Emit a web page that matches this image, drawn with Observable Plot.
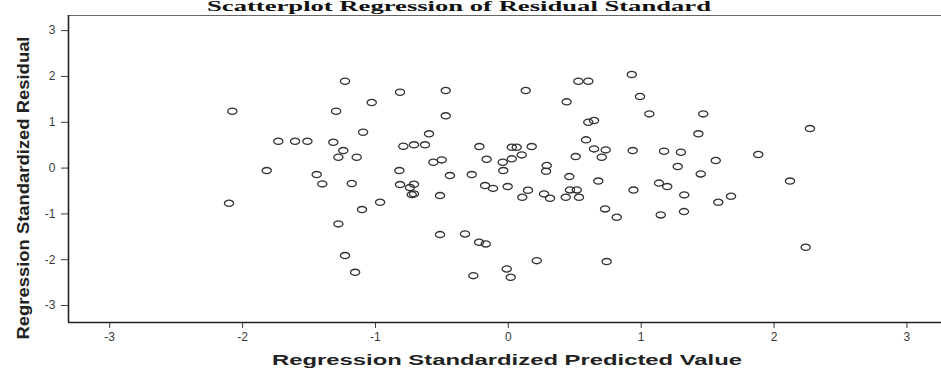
<!DOCTYPE html>
<html>
<head>
<meta charset="utf-8">
<script src="https://cdn.jsdelivr.net/npm/d3@7"></script>
<script src="https://cdn.jsdelivr.net/npm/@observablehq/plot@0.6"></script>
<style>
  html, body { margin: 0; padding: 0; background: #fff; }
  #chart { width: 941px; height: 369px; overflow: hidden; }
</style>
</head>
<body>
<div id="chart"></div>
<script>
// Regression standardized predicted value (x) and standardized residual (y)
const predicted = [
  -1.229, -2.077, -1.296, -1.731, -1.605, -1.512, -1.317, -1.242, -1.279, -1.141,
  -1.818, -1.442, -1.400, -1.178, -1.093, -2.102, -1.101, -1.279, -1.229, -1.153,
  -0.815, -0.471, 0.131, 0.527, 0.602, 0.929, 0.991, -1.028, 0.439, -0.471,
  0.602, 0.645, -0.597, 0.585, -0.790, -0.710, -0.627, -0.218, 0.026, 0.063,
  0.176, 0.645, 0.733, 0.936, -0.163, -0.042, 0.026, 0.101, 0.507, 0.703,
  -0.564, -0.501, -0.820, 0.289, 0.284, -0.439, -0.275, -0.038, 0.459, 0.677,
  -0.815, -0.710, -0.740, -0.175, -0.115, -0.005, 0.148, 0.464, 0.515, 0.942,
  -0.727, -0.710, -0.514, 0.105, 0.269, 0.314, 0.432, 0.532, -0.965, 0.728,
  0.816, -0.514, -0.326, -0.220, -0.170, 0.214, 0.740, -0.012, -0.263, 0.018,
  1.061, 1.467, 1.430, 2.270, 1.172, 1.299, 1.561, 1.881, 1.275, 1.448,
  1.134, 1.196, 2.120, 1.324, 1.580, 1.676, 1.147, 1.322, 2.238
];
const residual = [
  1.895, 1.240, 1.240, 0.585, 0.585, 0.585, 0.563, 0.382, 0.236, 0.236,
  -0.055, -0.142, -0.345, -0.338, 0.782, -0.769, -0.906, -1.218, -1.910, -2.275,
  1.655, 1.692, 1.692, 1.895, 1.895, 2.041, 1.561, 1.430, 1.445, 1.140,
  1.000, 1.037, 0.747, 0.616, 0.476, 0.507, 0.507, 0.469, 0.454, 0.454,
  0.469, 0.419, 0.397, 0.382, 0.192, 0.127, 0.201, 0.288, 0.251, 0.236,
  0.127, 0.179, -0.055, 0.055, -0.070, -0.164, -0.142, -0.055, -0.186, -0.284,
  -0.360, -0.354, -0.426, -0.382, -0.443, -0.404, -0.485, -0.476, -0.476, -0.480,
  -0.579, -0.563, -0.600, -0.638, -0.563, -0.659, -0.638, -0.638, -0.747, -0.891,
  -1.074, -1.452, -1.437, -1.620, -1.655, -2.020, -2.041, -2.201, -2.347, -2.384,
  1.183, 1.183, 0.747, 0.862, 0.367, 0.345, 0.164, 0.295, 0.033, -0.127,
  -0.328, -0.404, -0.284, -0.585, -0.747, -0.616, -1.022, -0.950, -1.729
];
const xTicks = [-3, -2, -1, 0, 1, 2, 3];
const yTicks = [-3, -2, -1, 0, 1, 2, 3];
const xDomain = [-3.31, 3.26];
const yDomain = [-3.37, 3.33];

const titleText = "Scatterplot Regression of Residual Standard";
const xLabel = "Regression Standardized Predicted Value";
const yLabel = "Regression Standardized Residual";

// open ellipse symbol (the scanned chart is stretched horizontally)
const RX = 4.6, RY = 3.1, K = 0.5523;
const ellipse = {
  draw(ctx) {
    ctx.moveTo(RX, 0);
    ctx.bezierCurveTo(RX, RY * K, RX * K, RY, 0, RY);
    ctx.bezierCurveTo(-RX * K, RY, -RX, RY * K, -RX, 0);
    ctx.bezierCurveTo(-RX, -RY * K, -RX * K, -RY, 0, -RY);
    ctx.bezierCurveTo(RX * K, -RY, RX, -RY * K, RX, 0);
    ctx.closePath();
  }
};

const points = predicted.map((p, i) => ({p, r: residual[i]}));
const fmt = d => String(d);

const svg = Plot.plot({
  width: 941,
  height: 369,
  marginLeft: 68,
  marginRight: 0,
  marginTop: 15,
  marginBottom: 47,
  style: {fontFamily: "'Liberation Sans', Arial, sans-serif", background: "#fff"},
  x: {domain: xDomain},
  y: {domain: yDomain},
  marks: [
    Plot.ruleY([yDomain[1]], {stroke: "#666", strokeWidth: 1}),
    Plot.axisX(xTicks, {tickSize: 6, tickPadding: 4, fontSize: 12, color: "#3a3a3a", tickFormat: fmt, label: null}),
    Plot.axisY(yTicks, {tickSize: 7, tickPadding: 6, fontSize: 12, color: "#3a3a3a", tickFormat: fmt, label: null}),
    Plot.ruleX([xDomain[0]], {stroke: "#222", strokeWidth: 1.6}),
    Plot.ruleY([yDomain[0]], {stroke: "#222", strokeWidth: 1.6}),
    Plot.dot(points, {x: "p", y: "r", symbol: ellipse, stroke: "#333", strokeWidth: 1.3, fill: "none"})
  ]
});

const s = d3.select(svg);
s.append("text")
  .attr("x", 459).attr("y", 11)
  .attr("text-anchor", "middle")
  .attr("font-family", "'Liberation Serif', 'Times New Roman', serif")
  .attr("font-weight", "bold")
  .attr("font-size", 14)
  .attr("textLength", 504)
  .attr("lengthAdjust", "spacingAndGlyphs")
  .attr("fill", "#111")
  .text(titleText);
s.append("text")
  .attr("x", 507).attr("y", 365)
  .attr("text-anchor", "middle")
  .attr("font-family", "'Liberation Sans', Arial, sans-serif")
  .attr("font-weight", "bold")
  .attr("font-size", 14.5)
  .attr("textLength", 470)
  .attr("lengthAdjust", "spacingAndGlyphs")
  .attr("fill", "#222")
  .text(xLabel);
s.append("text")
  .attr("transform", "translate(29,188) rotate(-90)")
  .attr("text-anchor", "middle")
  .attr("font-family", "'Liberation Sans', Arial, sans-serif")
  .attr("font-weight", "bold")
  .attr("font-size", 16)
  .attr("textLength", 303)
  .attr("lengthAdjust", "spacingAndGlyphs")
  .attr("fill", "#222")
  .text(yLabel);

document.getElementById("chart").appendChild(svg);
</script>
</body>
</html>
